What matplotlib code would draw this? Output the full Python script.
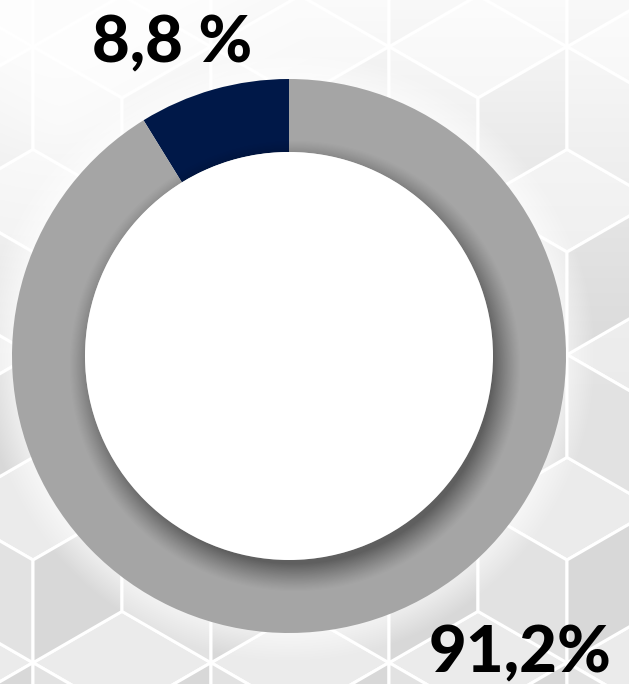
import numpy as np
import matplotlib.pyplot as plt
from matplotlib.patches import Circle, Polygon

W, H = 629, 684

# chart data
labels = ["8,8 %", "91,2%"]
shares = [8.8, 91.2]
colors = ["#001848", "#a5a5a5"]
label_pos = [(92, 62), (429, 672)]   # left / baseline, pixels from top-left

# donut geometry (pixels, y measured from the bottom)
cx, cy = 289, H - 356
r_out, r_in = 277, 204

fig = plt.figure(figsize=(W / 100, H / 100), dpi=100)
ax = fig.add_axes([0, 0, 1, 1])
ax.set_xlim(0, W)
ax.set_ylim(0, H)
ax.axis("off")

# background: isometric cubes
ax.add_patch(plt.Rectangle((0, 0), W, H, color="#e2e2e2", zorder=0))
s = 102.8
ang = np.radians([90, 30, -30, -90, -150, 150])
for j in range(-3, 8):
    for i in range(-4, 5):
        x0 = 567 + i * 178 + (j % 2) * 89
        y0 = H - (560 - j * 154)
        v = [(x0 + s * np.cos(a), y0 + s * np.sin(a)) for a in ang]
        c = (x0, y0)
        faces = [([c, v[1], v[0], v[5]], "#ebebeb"),
                 ([c, v[5], v[4], v[3]], "#e2e2e2"),
                 ([c, v[3], v[2], v[1]], "#d8d8d8")]
        for pts, fc in faces:
            ax.add_patch(Polygon(pts, closed=True, facecolor=fc,
                                 edgecolor="white", linewidth=2.2, zorder=1))

# white wash towards the top of the picture
yy, xx = np.mgrid[0:H, 0:W] + 0.5
wash = np.clip(1.0 - yy / 420.0, 0, 1) ** 1.3 * 0.85
wash += np.clip(1.0 - np.hypot(xx - 60, yy - 120) / 260.0, 0, 1) * 0.3
img = np.ones((H, W, 4))
img[..., 3] = np.clip(wash, 0, 0.95)
ax.imshow(img, extent=(0, W, 0, H), origin="upper", zorder=2, interpolation="bilinear")

# soft white halo around the ring
d = np.hypot(xx - cx, yy - (H - cy))
halo = np.ones((H, W, 4))
halo[..., 3] = np.clip((r_out + 30 - d) / 30.0, 0, 1) * 0.55
ax.imshow(halo, extent=(0, W, 0, H), origin="upper", zorder=3, interpolation="bilinear")

ax.pie(shares, colors=colors, startangle=90, counterclock=True,
       radius=r_out, center=(cx, cy), frame=True,
       wedgeprops=dict(width=r_out - r_in, linewidth=0, zorder=4))

# shadow of the white disc on the ring
ds = np.hypot(xx - (cx + 6), yy - (H - cy) - 10)
shadow = np.zeros((H, W, 4))
a = np.clip((r_in + 22 - ds) / 28.0, 0, 1) ** 1.2 * 0.42
a[d > r_out] = 0
shadow[..., 3] = a
ax.imshow(shadow, extent=(0, W, 0, H), origin="upper", zorder=5, interpolation="bilinear")

ax.add_patch(Circle((cx, cy), r_in, facecolor="white", edgecolor="none", zorder=6))

for txt, (lx, ly) in zip(labels, label_pos):
    ax.text(lx, H - ly, txt, fontsize=47, fontweight="black", family="Lato",
            color="black", ha="left", va="baseline", zorder=7)

ax.set_xlim(0, W)
ax.set_ylim(0, H)
fig.savefig("out.png", dpi=100)
